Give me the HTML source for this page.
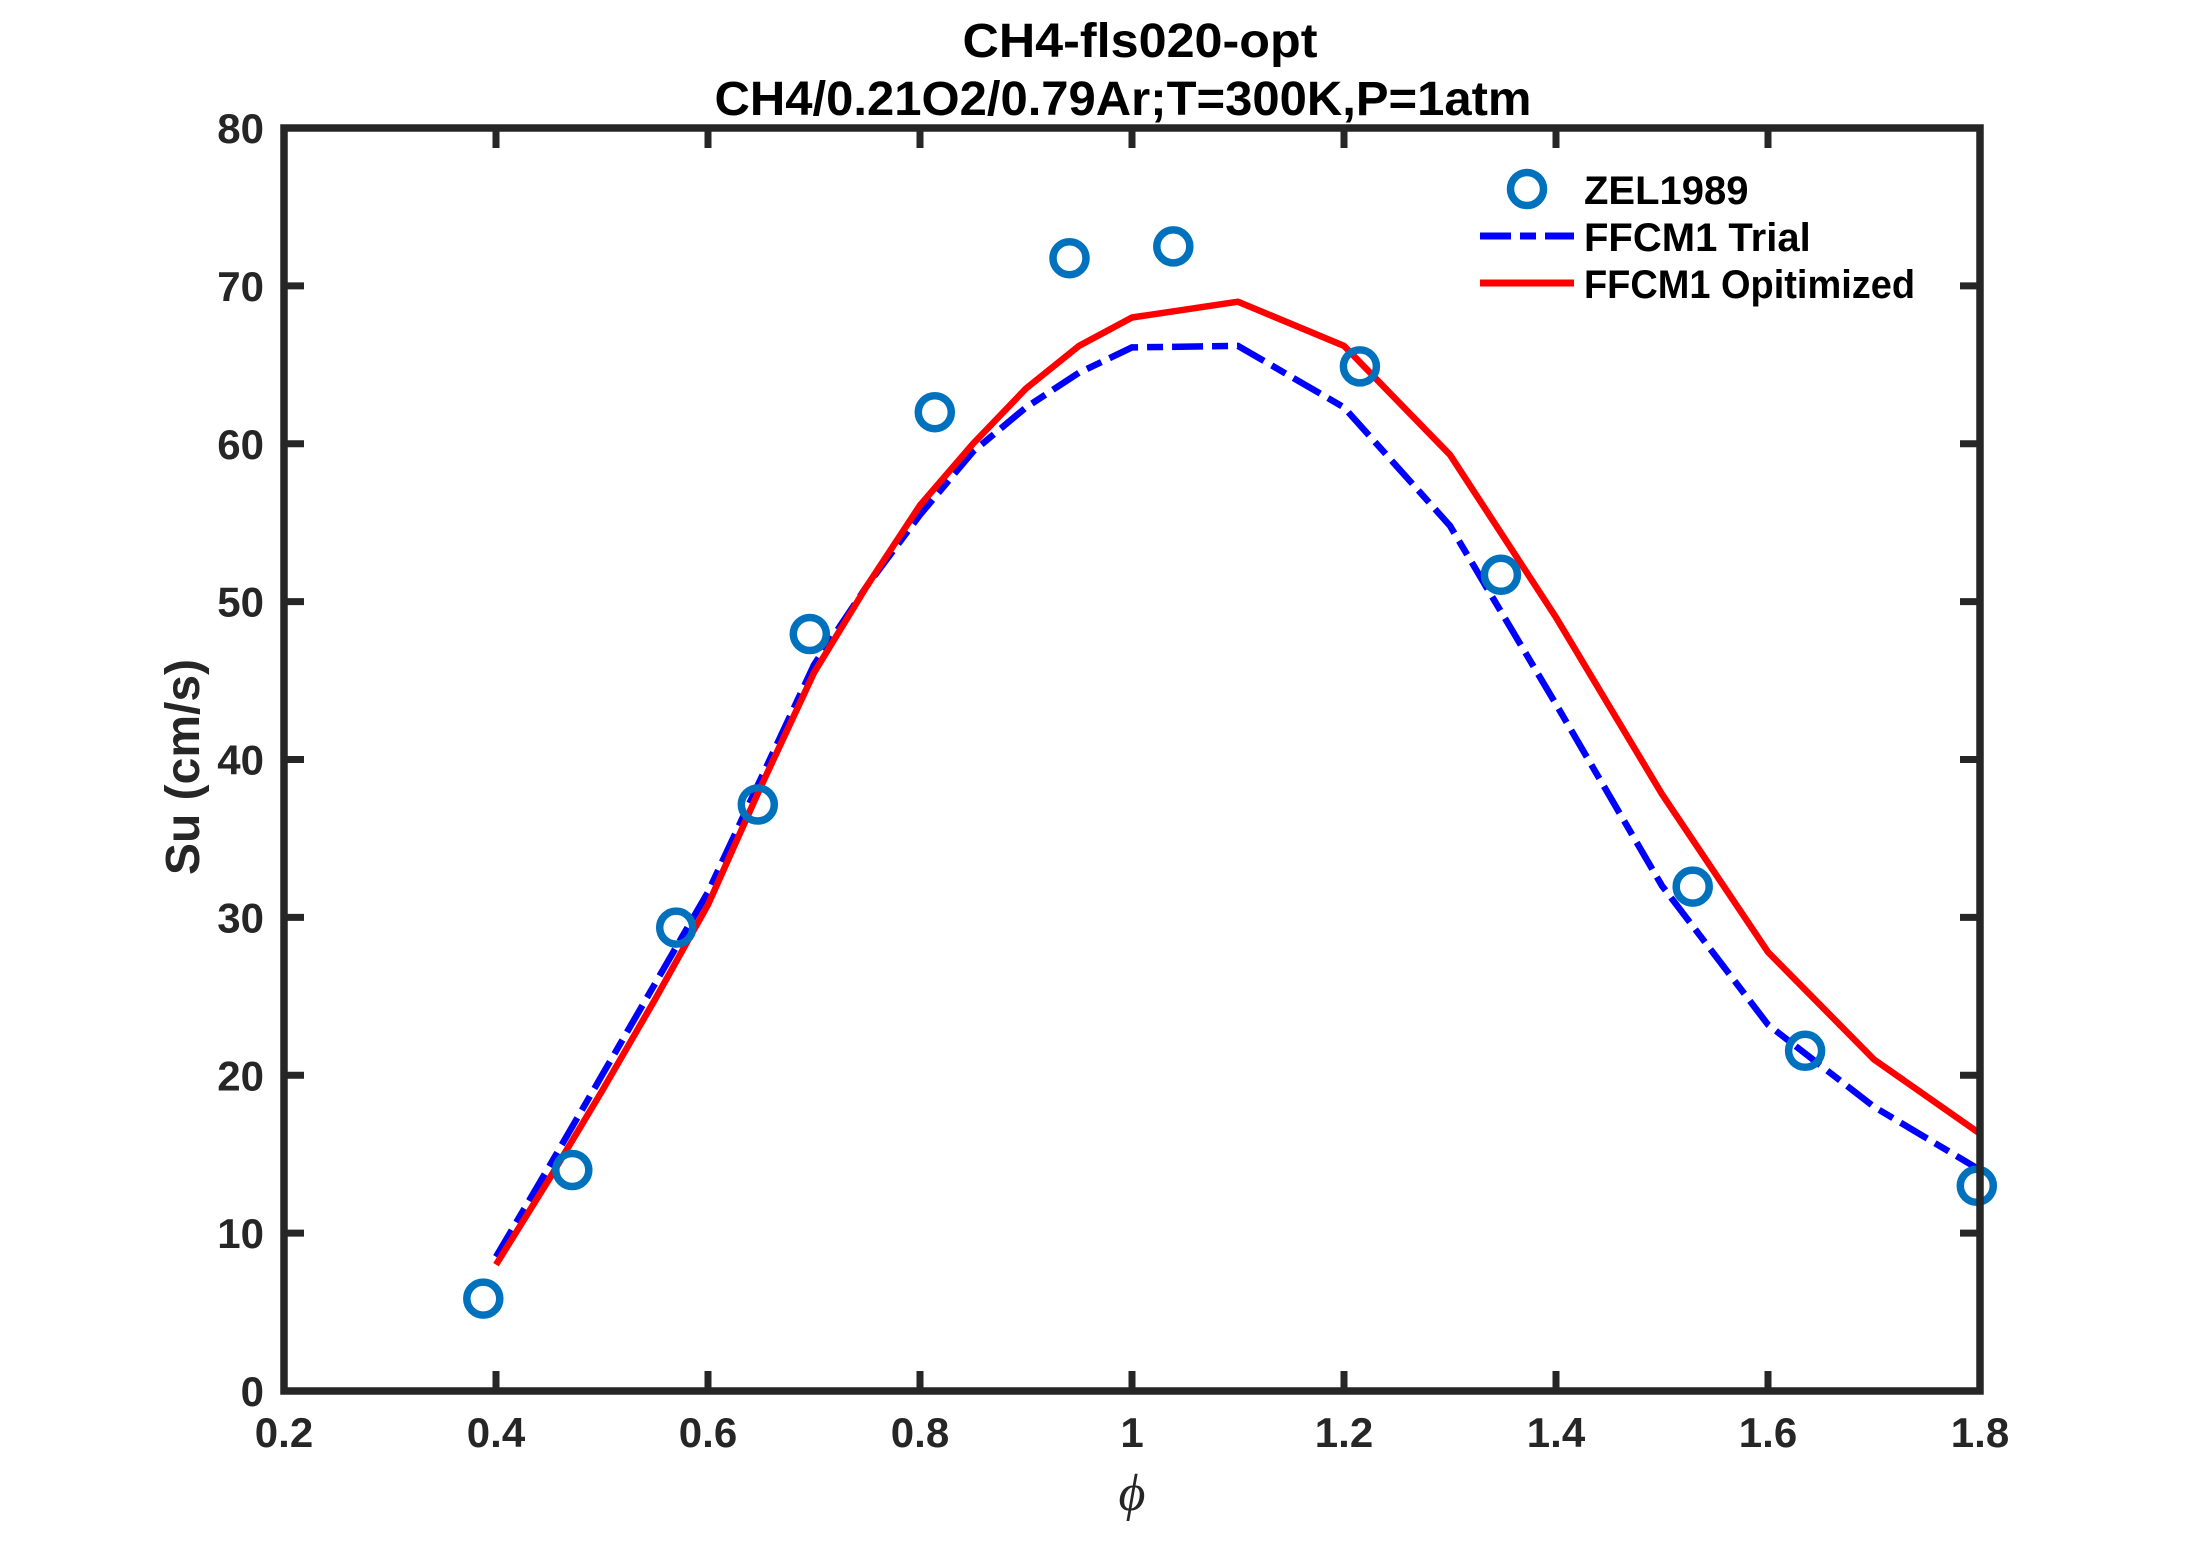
<!DOCTYPE html>
<html><head><meta charset="utf-8"><style>html,body{margin:0;padding:0;background:#fff}svg{display:block}</style></head>
<body>
<svg id="s" width="2187" height="1563" viewBox="0 0 2187 1563" xmlns="http://www.w3.org/2000/svg" font-family="Liberation Sans, Arial, sans-serif">
<rect width="2187" height="1563" fill="#fff"/>
<g id="plot"></g>
<text x="1140" y="57" text-anchor="middle" font-size="48" font-weight="bold" fill="#000" textLength="355" lengthAdjust="spacingAndGlyphs">CH4-fls020-opt</text>
<text x="1123" y="115" text-anchor="middle" font-size="48" font-weight="bold" fill="#000" textLength="817" lengthAdjust="spacingAndGlyphs">CH4/0.21O2/0.79Ar;T=300K,P=1atm</text>
<text transform="translate(199,767) rotate(-90)" text-anchor="middle" font-size="48" font-weight="bold" fill="#262626">Su (cm/s)</text>
<text x="1132" y="1510" text-anchor="middle" font-size="52" font-style="italic" font-family="Liberation Serif, serif" fill="#262626">ϕ</text>
<circle cx="1527" cy="189" r="16.5" fill="none" stroke="#0072BD" stroke-width="7.5"/>
<line x1="1480" y1="236" x2="1574" y2="236" stroke="#0000FF" stroke-width="7" stroke-dasharray="31 9 16 9"/>
<line x1="1480" y1="283" x2="1574" y2="283" stroke="#FF0000" stroke-width="7"/>
<g font-size="40" font-weight="bold" fill="#000">
<text x="1584" y="204">ZEL1989</text>
<text x="1584" y="251">FFCM1 Trial</text>
<text x="1584" y="298" textLength="331" lengthAdjust="spacingAndGlyphs">FFCM1 Opitimized</text>
</g>
</svg>
<script>
(function(){
var X=function(v){return 284+(v-0.2)*1060;}, Y=function(v){return 1391-v*15.7875;};
var g=document.getElementById('plot'),h='';
for(var i=0;i<=8;i++){var v=0.2+i*0.2,x=X(v);
 h+='<line x1="'+x+'" y1="1391" x2="'+x+'" y2="1371" stroke="#262626" stroke-width="7"/>';
 h+='<line x1="'+x+'" y1="128" x2="'+x+'" y2="148" stroke="#262626" stroke-width="7"/>';
 var lab=(Math.abs(v-1)<1e-6)?'1':v.toFixed(1);
 h+='<text x="'+x+'" y="1447" text-anchor="middle" font-size="42" font-weight="bold" fill="#262626">'+lab+'</text>';}
for(var j=0;j<=8;j++){var y=Y(j*10);
 h+='<line x1="284" y1="'+y+'" x2="304" y2="'+y+'" stroke="#262626" stroke-width="7"/>';
 h+='<line x1="1980" y1="'+y+'" x2="1960" y2="'+y+'" stroke="#262626" stroke-width="7"/>';
 h+='<text x="264" y="'+(y+15)+'" text-anchor="end" font-size="42" font-weight="bold" fill="#262626">'+(j*10)+'</text>';}
function pl(d){return d.map(function(p){return X(p[0]).toFixed(1)+','+Y(p[1]).toFixed(1)}).join(' ');}
var blue=[[0.4,8.5],[0.45,14.2],[0.5,20],[0.55,25.8],[0.6,31.6],[0.65,38.8],[0.7,46],[0.75,51],[0.8,55.5],[0.85,59.5],[0.9,62.3],[0.95,64.5],[1.0,66.1],[1.1,66.2],[1.2,62.3],[1.3,54.8],[1.4,43.5],[1.5,32],[1.6,23.2],[1.7,18],[1.8,14]];
var red=[[0.4,8.0],[0.45,13.4],[0.5,19],[0.55,24.8],[0.6,30.8],[0.65,38.3],[0.7,45.5],[0.75,51],[0.8,56.1],[0.85,60],[0.9,63.5],[0.95,66.2],[1.0,68],[1.1,69],[1.2,66.2],[1.3,59.3],[1.4,49],[1.5,37.8],[1.6,27.8],[1.7,21],[1.8,16.3]];
h+='<polyline points="'+pl(blue)+'" fill="none" stroke="#0000FF" stroke-width="6.5" stroke-dasharray="31 9 16 9"/>';
h+='<polyline points="'+pl(red)+'" fill="none" stroke="#FF0000" stroke-width="6.5" stroke-linejoin="round"/>';
var pts=[[0.388,5.85],[0.472,14],[0.57,29.35],[0.647,37.15],[0.696,47.95],[0.814,62],[0.941,71.75],[1.039,72.5],[1.215,64.9],[1.348,51.7],[1.529,31.95],[1.635,21.55],[1.797,13]];
pts.forEach(function(p){h+='<circle cx="'+X(p[0]).toFixed(1)+'" cy="'+Y(p[1]).toFixed(1)+'" r="16.5" fill="none" stroke="#0072BD" stroke-width="7.5"/>';});
h+='<rect x="284" y="128" width="1696" height="1263" fill="none" stroke="#262626" stroke-width="7.5"/>';
g.innerHTML=h;
})();
</script>
</body></html>
